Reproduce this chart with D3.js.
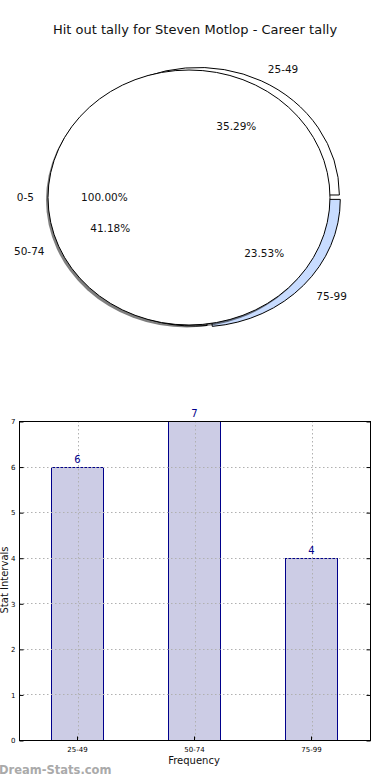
<!DOCTYPE html>
<html>
<head>
<meta charset="utf-8">
<script src="https://cdn.jsdelivr.net/npm/d3@7"></script>
<style>
    body { margin: 0; background: #fff; }
    text { font-family: "DejaVu Sans", sans-serif; }
</style>
</head>
<body>
<svg id="chart" width="390" height="780"></svg>
<script>
// data
var chartTitle = 'Hit out tally for Steven Motlop - Career tally';
var intervals = ['25-49', '50-74', '75-99'];
var counts = [6, 7, 4];
var sliceColors = ['#ffffff', '#ffffff', '#c8dcff'];
var totalLabels = ['0-5'];
var totalCounts = [1];
var yTicks = [0, 1, 2, 3, 4, 5, 6, 7];

(function() {
    var svg = d3.select('#chart');

    svg.append('text')
        .attr('x', 195).attr('y', 34)
        .attr('text-anchor', 'middle')
        .attr('font-size', 13)
        .attr('fill', '#111')
        .text(chartTitle);

    // ---- pie (elliptical, like the squashed matplotlib one) ----
    var rx = 141, ry = 127.5, explode = 0.022;
    // labels sit a little further out than the wedges (per slice)
    var labelShift = [0.026, 0.06, 0.045];
    // matplotlib starts at 3 o'clock and goes counter-clockwise
    var pie = d3.pie().sort(null).startAngle(Math.PI / 2).endAngle(Math.PI / 2 - 2 * Math.PI);
    var unitArc = d3.arc().innerRadius(0).outerRadius(1);

    function pos(a, r) { return [Math.sin(a) * r * rx, -Math.cos(a) * r * ry]; }

    function drawLabels(g, slices, names, total, shifts) {
        slices.forEach(function(d, i) {
            var mid = (d.startAngle + d.endAngle) / 2,
                s = pos(mid, shifts ? shifts[i] : 0),
                p = pos(mid, 1.1),
                q = pos(mid, 0.6);
            g.append('text')
                .attr('x', p[0] + s[0]).attr('y', p[1] + s[1])
                .attr('dy', '0.35em')
                .attr('text-anchor', p[0] > 0 ? 'start' : 'end')
                .attr('font-size', 10.5)
                .attr('fill', '#111')
                .text(names[i]);
            g.append('text')
                .attr('x', q[0] + s[0]).attr('y', q[1] + s[1])
                .attr('dy', '0.35em')
                .attr('text-anchor', 'middle')
                .attr('font-size', 10.5)
                .attr('fill', '#111')
                .text((d.value / total * 100).toFixed(2) + '%');
        });
    }

    var pieA = svg.append('g').attr('transform', 'translate(197,197.5)');
    var slicesA = pie(counts);

    pieA.selectAll('g.slice')
        .data(slicesA)
      .enter().append('g')
        .attr('class', 'slice')
        .attr('transform', function(d) {
            var p = pos((d.startAngle + d.endAngle) / 2, explode);
            return 'translate(' + p[0] + ',' + p[1] + ') scale(' + rx + ',' + ry + ')';
        })
        .append('path')
        .attr('d', unitArc)
        .attr('fill', function(d, i) { return sliceColors[i]; })
        .attr('stroke', '#000')
        .attr('stroke-width', 1)
        .attr('vector-effect', 'non-scaling-stroke');

    // the 100% "0-5" pie drawn on top, with its shadow
    var pieB = svg.append('g').attr('transform', 'translate(189,197.5)');
    var slicesB = pie(totalCounts);

    pieB.selectAll('path.shadow')
        .data(slicesB)
      .enter().append('path')
        .attr('class', 'shadow')
        .attr('transform', 'translate(-2,2.5) scale(' + rx + ',' + ry + ')')
        .attr('d', unitArc)
        .attr('fill', '#000')
        .attr('fill-opacity', 0.5);

    pieB.selectAll('path.wedge')
        .data(slicesB)
      .enter().append('path')
        .attr('class', 'wedge')
        .attr('transform', 'scale(' + rx + ',' + ry + ')')
        .attr('d', unitArc)
        .attr('fill', '#fff')
        .attr('stroke', '#000')
        .attr('stroke-width', 1)
        .attr('vector-effect', 'non-scaling-stroke');

    // labels go on top of both pies
    drawLabels(svg.append('g').attr('transform', 'translate(189,197.5)'), slicesB, totalLabels, d3.sum(totalCounts));
    drawLabels(svg.append('g').attr('transform', 'translate(197,197.5)'), slicesA, intervals, d3.sum(counts), labelShift);

    // ---- bar chart ----
    var plotLeft = 19, plotRight = 370, plotTop = 421, plotBottom = 740;

    var x = d3.scaleBand()
        .domain(intervals)
        .range([plotLeft, plotRight])
        .paddingInner(0.555)
        .paddingOuter(0.2775);

    var y = d3.scaleLinear()
        .domain([0, 7])
        .range([plotBottom, plotTop]);

    var grid = svg.append('g')
        .attr('stroke', '#b0b0b0')
        .attr('stroke-dasharray', '1.5,2.5')
        .attr('stroke-width', 1);

    grid.selectAll('line.h')
        .data(yTicks.slice(1, -1))
      .enter().append('line')
        .attr('x1', plotLeft).attr('x2', plotRight)
        .attr('y1', function(d) { return Math.round(y(d)) + 0.5; })
        .attr('y2', function(d) { return Math.round(y(d)) + 0.5; });

    grid.selectAll('line.v')
        .data(intervals)
      .enter().append('line')
        .attr('y1', plotTop).attr('y2', plotBottom)
        .attr('x1', function(d) { return Math.round(x(d) + x.bandwidth() / 2) + 0.5; })
        .attr('x2', function(d) { return Math.round(x(d) + x.bandwidth() / 2) + 0.5; });

    svg.selectAll('rect.bar')
        .data(counts)
      .enter().append('rect')
        .attr('class', 'bar')
        .attr('x', function(d, i) { return Math.round(x(intervals[i])) + 0.5; })
        .attr('y', function(d) { return Math.round(y(d)) + 0.5; })
        .attr('width', Math.round(x.bandwidth()))
        .attr('height', function(d) { return Math.round(plotBottom - y(d)); })
        .attr('fill', '#ccccE5')
        .attr('stroke', '#00008b')
        .attr('stroke-width', 1);

    // grid lines show through the bars in the reference
    grid.raise();

    svg.selectAll('text.val')
        .data(counts)
      .enter().append('text')
        .attr('class', 'val')
        .attr('x', function(d, i) { return x(intervals[i]) + x.bandwidth() / 2; })
        .attr('y', function(d) { return y(d) - 4; })
        .attr('text-anchor', 'middle')
        .attr('font-size', 10)
        .attr('fill', '#00008b')
        .text(function(d) { return d; });

    // frame
    svg.append('rect')
        .attr('x', plotLeft + 0.5).attr('y', plotTop + 0.5)
        .attr('width', plotRight - plotLeft).attr('height', plotBottom - plotTop)
        .attr('fill', 'none')
        .attr('stroke', '#000')
        .attr('stroke-width', 1);

    var yAxis = svg.append('g')
        .attr('transform', 'translate(' + (plotLeft + 0.5) + ',0.5)')
        .call(d3.axisLeft(y).tickValues(yTicks).tickSize(-4).tickPadding(4).tickFormat(d3.format('d')));
    yAxis.select('.domain').remove();
    yAxis.selectAll('text').attr('font-size', 7).attr('font-family', '"DejaVu Sans", sans-serif').attr('fill', '#000');

    var yAxisR = svg.append('g')
        .attr('transform', 'translate(' + (plotRight + 0.5) + ',0.5)')
        .call(d3.axisRight(y).tickValues(yTicks).tickSize(-4).tickFormat(''));
    yAxisR.select('.domain').remove();

    var xAxis = svg.append('g')
        .attr('transform', 'translate(0,' + (plotBottom + 0.5) + ')')
        .call(d3.axisBottom(x).tickSize(-4).tickPadding(7));
    xAxis.select('.domain').remove();
    xAxis.selectAll('text').attr('font-size', 7).attr('font-family', '"DejaVu Sans", sans-serif').attr('fill', '#000');

    svg.append('text')
        .attr('x', 194).attr('y', 764)
        .attr('text-anchor', 'middle')
        .attr('font-size', 10)
        .attr('fill', '#111')
        .text('Frequency');

    svg.append('text')
        .attr('transform', 'translate(8,580) rotate(-90)')
        .attr('text-anchor', 'middle')
        .attr('font-size', 10)
        .attr('fill', '#111')
        .text('Stat Intervals');

    svg.append('text')
        .attr('x', -1).attr('y', 774)
        .attr('font-size', 11.5)
        .attr('font-weight', 'bold')
        .attr('fill', '#aaaaaa')
        .text('Dream-Stats.com');
})();
</script>
</body>
</html>
